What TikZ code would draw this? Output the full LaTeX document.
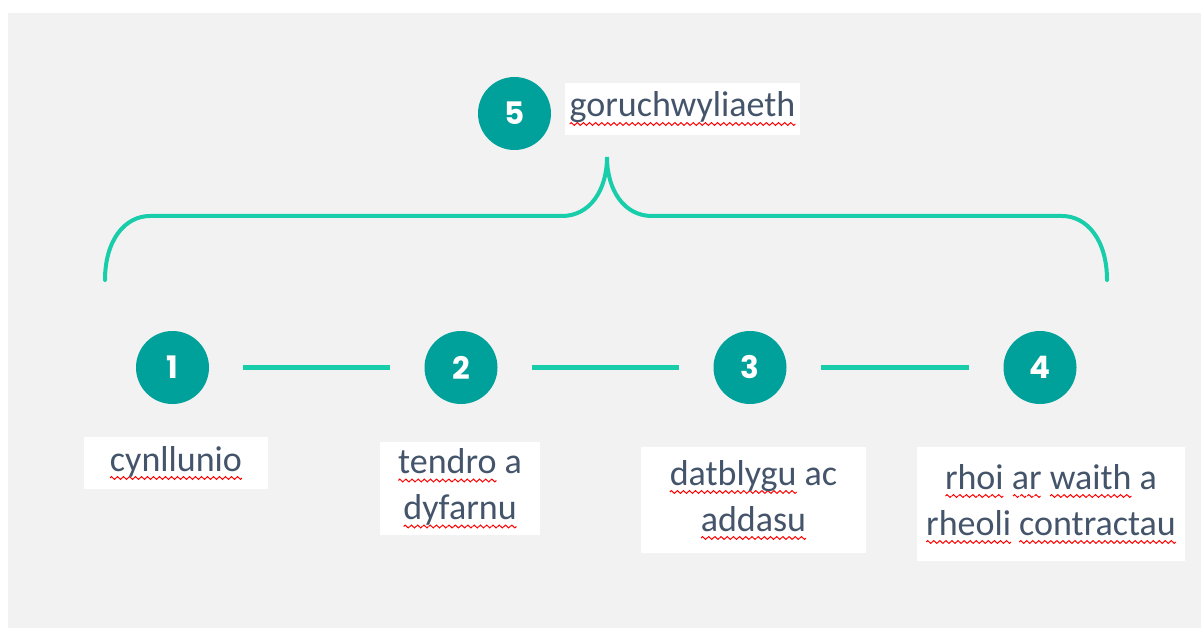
\documentclass[tikz,border=0pt]{standalone}
\usepackage{fontspec}
\setmainfont{Carlito}
\newfontfamily\numfont{Poppins}
\usepackage{tikz}
\definecolor{pale grey}{HTML}{F2F2F2}
\definecolor{deep teal}{HTML}{00A19A}
\definecolor{mint line}{HTML}{17CDAA}
\definecolor{slate text}{HTML}{44546A}
% red spell-check wave under a word
\newsavebox\wavebox
\sbox\wavebox{\begin{pgfpicture}
	\pgfpathrectangle{\pgfpoint{0pt}{-2pt}}{\pgfpoint{6pt}{4pt}}
	\pgfusepath{use as bounding box}
	\pgfsetbaseline{0pt}
	\pgfsetlinewidth{1pt}\pgfsetstrokecolor{red}
	\pgfpathmoveto{\pgfpoint{0pt}{0pt}}
	\pgfpathsine{\pgfpoint{1.5pt}{1.4pt}}\pgfpathcosine{\pgfpoint{1.5pt}{-1.4pt}}
	\pgfpathsine{\pgfpoint{1.5pt}{-1.4pt}}\pgfpathcosine{\pgfpoint{1.5pt}{1.4pt}}
	\pgfusepath{stroke}
\end{pgfpicture}}
\newcommand\spellwave[1]{\leavevmode\setbox0\hbox{#1}%
	\rlap{\lower7pt\hbox to\wd0{\xleaders\copy\wavebox\hfill}}\box0\relax}

\begin{document}
\begin{tikzpicture}[x=1pt, y=-1pt,
		numcircle/.style={circle, fill=deep teal, minimum size=73pt, inner sep=0pt,
			text=white, font=\numfont\bfseries\fontsize{31}{31}\selectfont},
		labelbox/.style={fill=white, inner sep=0pt, align=center, text=slate text,
			font=\fontsize{36}{46}\selectfont},
		link/.style={mint line, line width=5pt, shorten <=34pt, shorten >=34pt},
		brace/.style={mint line, line width=4pt, line cap=round}]
		\useasboundingbox (0, 0) rectangle (1201, 628);
		% backdrop
		\fill[pale grey] (8, 13) rectangle (1201, 628);
		% top step
		\node[numcircle] (c5) at (514.5, 113.5) {5};
		\node[labelbox, minimum width=235pt, minimum height=52pt]
			(lab5) at (682.5, 109) {\spellwave{goruchwyliaeth}};
		% brace
		\draw[brace] (105, 280) .. controls (105, 240) and (125, 216) .. (150, 216)
			-- (562, 216) .. controls (590, 216) and (607, 190) .. (607, 157)
			.. controls (607, 190) and (624, 216) .. (652, 216)
			-- (1062, 216) .. controls (1087, 216) and (1107, 240) .. (1107, 280);
		% steps along the line
		\node[numcircle] (c1) at (172.5, 367.5) {1};
		\node[numcircle] (c2) at (461, 367.5) {2};
		\node[numcircle] (c3) at (750, 367.5) {3};
		\node[numcircle] (c4) at (1040, 367.5) {4};
		\draw[link] (c1) -- (c2);
		\draw[link] (c2) -- (c3);
		\draw[link] (c3) -- (c4);
		% labels
		\node[labelbox, minimum width=184pt, minimum height=52pt]
			(lab1) at (176, 463) {\spellwave{cynllunio}};
		\node[labelbox, minimum width=160pt, minimum height=93pt]
			(lab2) at (460, 488.5) {\spellwave{tendro} a\\ \spellwave{dyfarnu}};
		\node[labelbox, minimum width=225pt, minimum height=106pt]
			(lab3) at (753.5, 500) {\spellwave{datblygu} ac\\ \spellwave{addasu}};
		\node[labelbox, minimum width=268pt, minimum height=114pt]
			(lab4) at (1051, 504) {\spellwave{rhoi} \spellwave{ar} \spellwave{waith} a\\
				\spellwave{rheoli} \spellwave{contractau}};
	\end{tikzpicture}
\end{document}
